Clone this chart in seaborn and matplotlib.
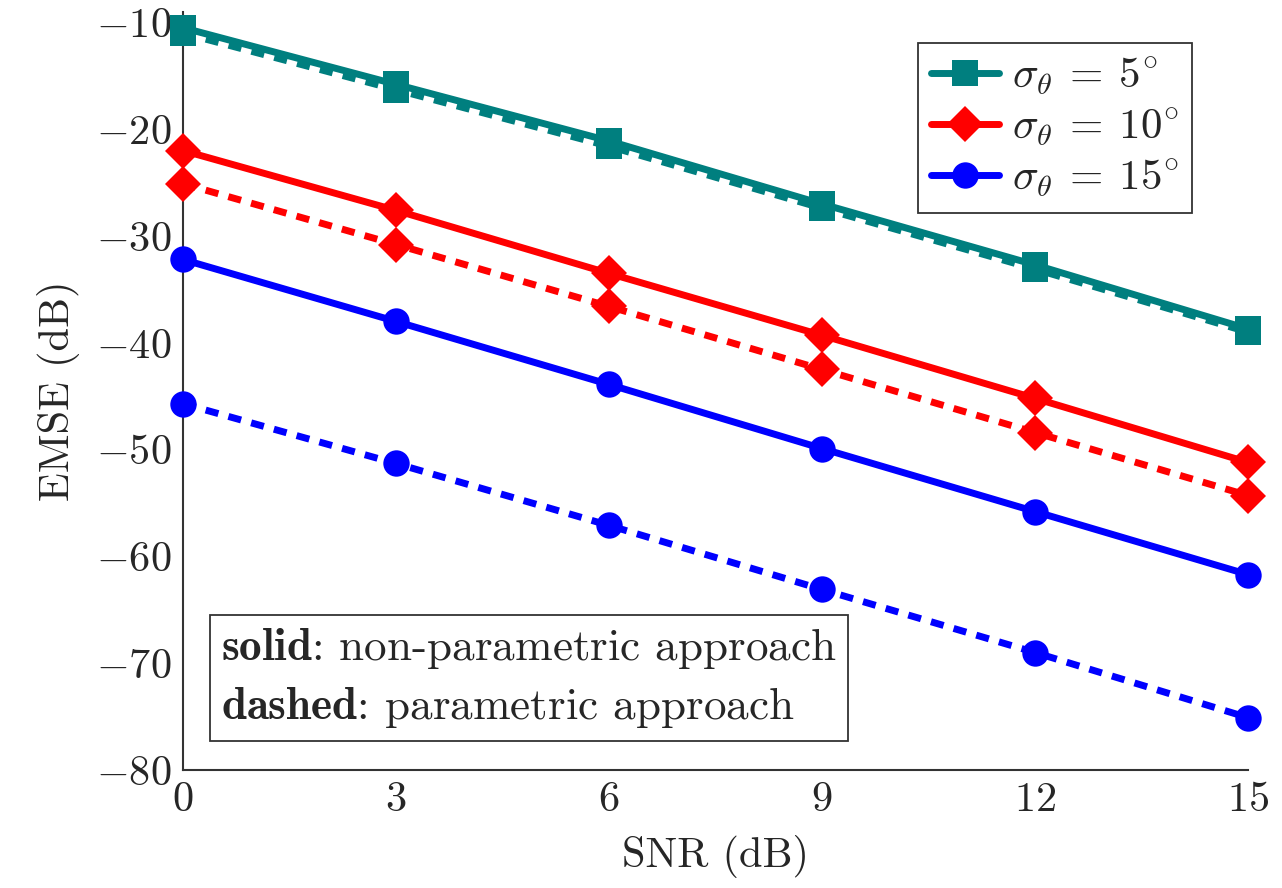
import matplotlib
matplotlib.use("Agg")
import matplotlib.pyplot as plt
import seaborn as sns
import pandas as pd
from matplotlib.lines import Line2D

snr = [0, 3, 6, 9, 12, 15]
s5_solid = [-10.5, -15.8, -21.1, -27.0, -32.7, -38.7]
s5_dashed = [-11.0, -16.3, -21.6, -27.4, -33.1, -39.0]
s10_solid = [-22.0, -27.6, -33.5, -39.3, -45.2, -51.2]
s10_dashed = [-25.1, -30.8, -36.6, -42.5, -48.4, -54.3]
s15_solid = [-32.2, -38.0, -43.9, -49.9, -55.8, -61.7]
s15_dashed = [-45.7, -51.3, -57.1, -63.1, -69.0, -75.1]
labels = [r"$\sigma_\theta\:=\:5^{\circ}$", r"$\sigma_\theta\:=\:10^{\circ}$", r"$\sigma_\theta\:=\:15^{\circ}$"]
colors = ["#007f7f", "#ff0000", "#0000ff"]
markers = ["s", "D", "o"]
xticks = [0, 3, 6, 9, 12, 15]
yticks = [-80, -70, -60, -50, -40, -30, -20, -10]

sns.set_theme(style="white")
plt.rcParams["font.family"] = ["cmr10"]
plt.rcParams["mathtext.fontset"] = "cm"
plt.rcParams["axes.formatter.use_mathtext"] = True
plt.rcParams["axes.unicode_minus"] = True

fig = plt.figure(figsize=(12.82, 8.88), dpi=100)
ax = fig.add_axes([0.1427, 0.1329, 0.9735 - 0.1427, 0.9868 - 0.1329])

LW = 5.0
series = [(s5_solid, s5_dashed), (s10_solid, s10_dashed), (s15_solid, s15_dashed)]
msizes = [19, 18, 19]
for (sol, das), c, m, ms in zip(series, colors, markers, msizes):
    df_s = pd.DataFrame({"x": snr, "y": sol})
    df_d = pd.DataFrame({"x": snr, "y": das})
    sns.lineplot(data=df_d, x="x", y="y", ax=ax, color=c, lw=LW, marker=m,
                 markersize=ms, markeredgewidth=0, clip_on=False, zorder=3)
    ax.lines[-1].set_dashes((1.9, 1.5))
    sns.lineplot(data=df_s, x="x", y="y", ax=ax, color=c, lw=LW, marker=m,
                 markersize=ms, markeredgewidth=0, clip_on=False, zorder=4)

ax.set_xlim(0, 15)
ax.set_ylim(-80, -9)
ax.set_xticks(xticks)
ax.set_yticks(yticks)
ax.tick_params(axis="both", direction="in", length=7, width=1.2, color="#aaaaaa",
               labelsize=30.5, pad=8)
for s in ["top", "right"]:
    ax.spines[s].set_visible(False)
for s in ["left", "bottom"]:
    ax.spines[s].set_color("#333333")
    ax.spines[s].set_linewidth(1.5)
ax.set_xlabel("SNR (dB)", fontsize=30.5, labelpad=12)
ax.set_ylabel("EMSE (dB)", fontsize=30.5, labelpad=12)

handles = [Line2D([], [], color=c, lw=LW, marker=m, markersize=ms, markeredgewidth=0)
           for c, m, ms in zip(colors, markers, msizes)]
leg = ax.legend(handles, labels, loc="upper right", bbox_to_anchor=(0.968, 0.987),
                fontsize=31, frameon=True, fancybox=False, framealpha=1,
                edgecolor="#333333", handlelength=1.6, handletextpad=0.3,
                labelspacing=0.2, borderpad=0.3)
leg.get_frame().set_linewidth(1.3)

ax.text(0.0357, 0.053,
        r"$\mathbf{solid}$: non-parametric approach" + "\n" + r"$\mathbf{dashed}$: parametric approach",
        transform=ax.transAxes, fontsize=32.5, va="bottom", ha="left", linespacing=1.4,
        bbox=dict(boxstyle="square,pad=0.25", fc="white", ec="#333333", lw=1.3), zorder=5)

fig.savefig("out.png", dpi=100)
